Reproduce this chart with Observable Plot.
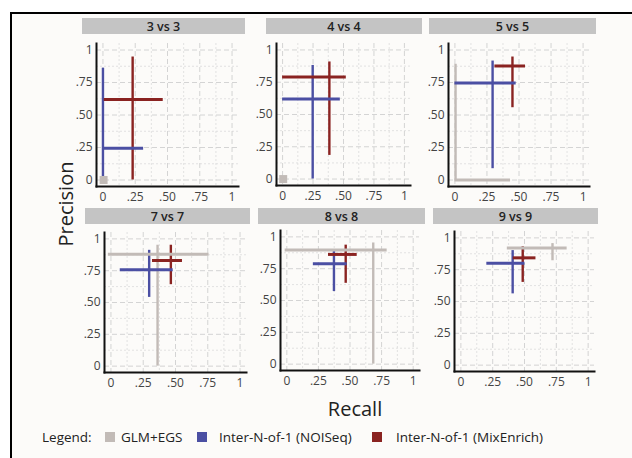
<!DOCTYPE html>
<html><head><meta charset="utf-8">
<script src="https://cdn.jsdelivr.net/npm/d3@7"></script>
<script src="https://cdn.jsdelivr.net/npm/@observablehq/plot@0.6"></script>
<style>
body{margin:0;background:#fff;}
#root{position:relative;width:632px;height:458px;overflow:hidden;font-family:"Open Sans",sans-serif;background:#fff;}
#inner{position:absolute;left:12px;top:14px;right:0;bottom:0;background:#fcfbf9;}
.bt{position:absolute;left:10px;top:12px;width:622px;height:2px;background:#000;}
.bl{position:absolute;left:10px;top:12px;width:2px;height:446px;background:#000;}
.strip{position:absolute;background:#c4c4c4;color:#222;font-weight:600;font-size:12.5px;display:flex;align-items:center;justify-content:center;}
.panel{position:absolute;}
.ytitle{position:absolute;left:65px;top:204px;transform:translate(-50%,-50%) rotate(-90deg);font-size:20px;color:#222;white-space:nowrap;}
.xtitle{position:absolute;left:355px;top:408px;transform:translate(-50%,-50%);font-size:20px;color:#222;white-space:nowrap;}
.lgt{position:absolute;top:437px;transform:translateY(-50%);font-size:13.5px;color:#222;white-space:nowrap;}
.sw{position:absolute;top:432px;width:10px;height:10px;}
</style></head><body><div id="root"><div id="inner"></div><div class="bt"></div><div class="bl"></div></div>
<script>
const panels = ["3 vs 3","4 vs 4","5 vs 5","7 vs 7","8 vs 8","9 vs 9"];
const methods = ["GLM+EGS","Inter-N-of-1 (NOISeq)","Inter-N-of-1 (MixEnrich)"];
const colors = ["#c2bbb7","#4b4fa3","#8a2321"];
const tickValues = [0,0.25,0.5,0.75,1];
const tickLabels = ["0",".25",".50",".75","1"];
const minorTicks = [0.125,0.375,0.625,0.875];

// GLM+EGS
const glmRecall    = [0.005,0.005,0.005,0.361,0.684,0.72];
const glmRecallLo  = [0,0,0,-0.02,-0.013,0.365];
const glmRecallHi  = [0,0,0.434,0.76,0.794,0.835];
const glmPrec      = [0,0,0,0.88,0.896,0.92];
const glmPrecLo    = [0,0,0,0,0,0.82];
const glmPrecHi    = [0,0,0.89,0.95,0.952,0.955];
// Inter-N-of-1 (NOISeq)
const noiRecall    = [0,0.247,0.294,0.296,0.373,0.407];
const noiRecallLo  = [0,0,0,0.072,0.21,0.204];
const noiRecallHi  = [0.315,0.474,0.478,0.482,0.478,0.504];
const noiPrec      = [0.244,0.62,0.746,0.757,0.789,0.80];
const noiPrecLo    = [0,0,0.087,0.54,0.57,0.56];
const noiPrecHi    = [0.86,0.88,0.915,0.91,0.896,0.90];
// Inter-N-of-1 (MixEnrich)
const mixRecall    = [0.23,0.384,0.449,0.464,0.466,0.486];
const mixRecallLo  = [0.01,0,0.312,0.322,0.33,0.412];
const mixRecallHi  = [0.467,0.523,0.551,0.554,0.557,0.59];
const mixPrec      = [0.62,0.79,0.877,0.83,0.862,0.843];
const mixPrecLo    = [0,0.183,0.556,0.64,0.635,0.65];
const mixPrecHi    = [0.946,0.907,0.946,0.95,0.935,0.93];

const series = [
  [glmRecall,glmRecallLo,glmRecallHi,glmPrec,glmPrecLo,glmPrecHi],
  [noiRecall,noiRecallLo,noiRecallHi,noiPrec,noiPrecLo,noiPrecHi],
  [mixRecall,mixRecallLo,mixRecallHi,mixPrec,mixPrecLo,mixPrecHi]
];

// layout: pixel of x=0, x=1, y=0, y=1, strip left/right/top/bottom
const layout = [
  {x0:102,x1:231,y0:179,y1:49,sl:82,sr:245,st:18,sb:34},
  {x0:282.3,x1:404,y0:178,y1:49,sl:266,sr:422,st:18,sb:34},
  {x0:454.3,x1:582.7,y0:179,y1:49,sl:429,sr:596,st:18,sb:34},
  {x0:110,x1:239.3,y0:365.7,y1:238.3,sl:85,sr:250,st:208,sb:224},
  {x0:286.7,x1:413.3,y0:364.3,y1:236.7,sl:258,sr:425,st:208,sb:224},
  {x0:460.7,x1:588.3,y0:365,y1:237.3,sl:433,sr:598,st:208,sb:224}
];

const root = document.getElementById("root");
const fmt = d => tickLabels[tickValues.indexOf(d)];

panels.forEach((name,i) => {
  const L = layout[i];
  const rows = series.map((s,j) => ({
    method: methods[j], color: colors[j],
    recall: s[0][i], recallLo: s[1][i], recallHi: s[2][i],
    prec: s[3][i], precLo: s[4][i], precHi: s[5][i]
  }));
  const ux = L.x1 - L.x0, uy = L.y0 - L.y1;
  const fl = L.x0 - 0.05*ux, fr = L.x1 + 0.05*ux;
  const ft = L.y1 - 0.05*uy, fb = L.y0 + 0.05*uy;
  const mL = 30, mR = 4, mT = 4, mB = 22;
  const chart = Plot.plot({
    width: Math.round(fr - fl + mL + mR),
    height: Math.round(fb - ft + mT + mB),
    marginLeft: mL, marginRight: mR, marginTop: mT, marginBottom: mB,
    style: {background: "transparent", fontFamily: "'Open Sans', sans-serif", overflow: "visible"},
    x: {domain: [-0.05, 1.05]},
    y: {domain: [-0.05, 1.05]},
    marks: [
      Plot.ruleX(minorTicks, {stroke: "#dcdcdc", strokeWidth: 0.8, strokeDasharray: "2,2"}),
      Plot.ruleY(minorTicks, {stroke: "#dcdcdc", strokeWidth: 0.8, strokeDasharray: "2,2"}),
      Plot.ruleX(tickValues, {stroke: "#cfcfcf", strokeWidth: 0.9, strokeDasharray: "5,3"}),
      Plot.ruleY(tickValues, {stroke: "#cfcfcf", strokeWidth: 0.9, strokeDasharray: "5,3"}),
      Plot.axisX({ticks: tickValues, tickFormat: fmt, tickSize: 0, tickPadding: 6, fontSize: 12, color: "#444"}),
      Plot.axisY({ticks: tickValues, tickFormat: fmt, tickSize: 0, tickPadding: 4, fontSize: 12, color: "#444"}),
      Plot.frame({anchor: "left", stroke: "#111", strokeWidth: 2}),
      Plot.frame({anchor: "bottom", stroke: "#111", strokeWidth: 2}),
      Plot.ruleX(rows.filter(d => d.precHi > d.precLo), {x: "recall", y1: "precLo", y2: "precHi", stroke: "color", strokeWidth: 2.4}),
      Plot.ruleY(rows.filter(d => d.recallHi > d.recallLo), {y: "prec", x1: "recallLo", x2: "recallHi", stroke: "color", strokeWidth: 3}),
      Plot.dot(rows.filter(d => d.recallHi <= d.recallLo && d.precHi <= d.precLo), {x: "recall", y: "prec", symbol: "square", r: 4.5, fill: "color"})
    ]
  });
  chart.classList.add("panel");
  chart.style.left = (fl - mL) + "px";
  chart.style.top = (ft - mT) + "px";
  root.appendChild(chart);
  const strip = document.createElement("div");
  strip.className = "strip";
  strip.style.left = L.sl + "px";
  strip.style.width = (L.sr - L.sl) + "px";
  strip.style.top = L.st + "px";
  strip.style.height = (L.sb - L.st) + "px";
  strip.textContent = name;
  root.appendChild(strip);
});

const yt = document.createElement("div"); yt.className = "ytitle"; yt.textContent = "Precision"; root.appendChild(yt);
const xt = document.createElement("div"); xt.className = "xtitle"; xt.textContent = "Recall"; root.appendChild(xt);

function addText(txt, left) {
  const t = document.createElement("div"); t.className = "lgt"; t.textContent = txt; t.style.left = left + "px"; root.appendChild(t);
}
function addSwatch(color, left) {
  const s = document.createElement("div"); s.className = "sw"; s.style.background = color; s.style.left = left + "px"; root.appendChild(s);
}
const legendText = "Legend:";
const swatchLeft = [105, 197, 372];
const labelLeft = [121, 219, 396];
addText(legendText, 42);
methods.forEach((m,j) => { addSwatch(colors[j], swatchLeft[j]); addText(m, labelLeft[j]); });
</script></body></html>
